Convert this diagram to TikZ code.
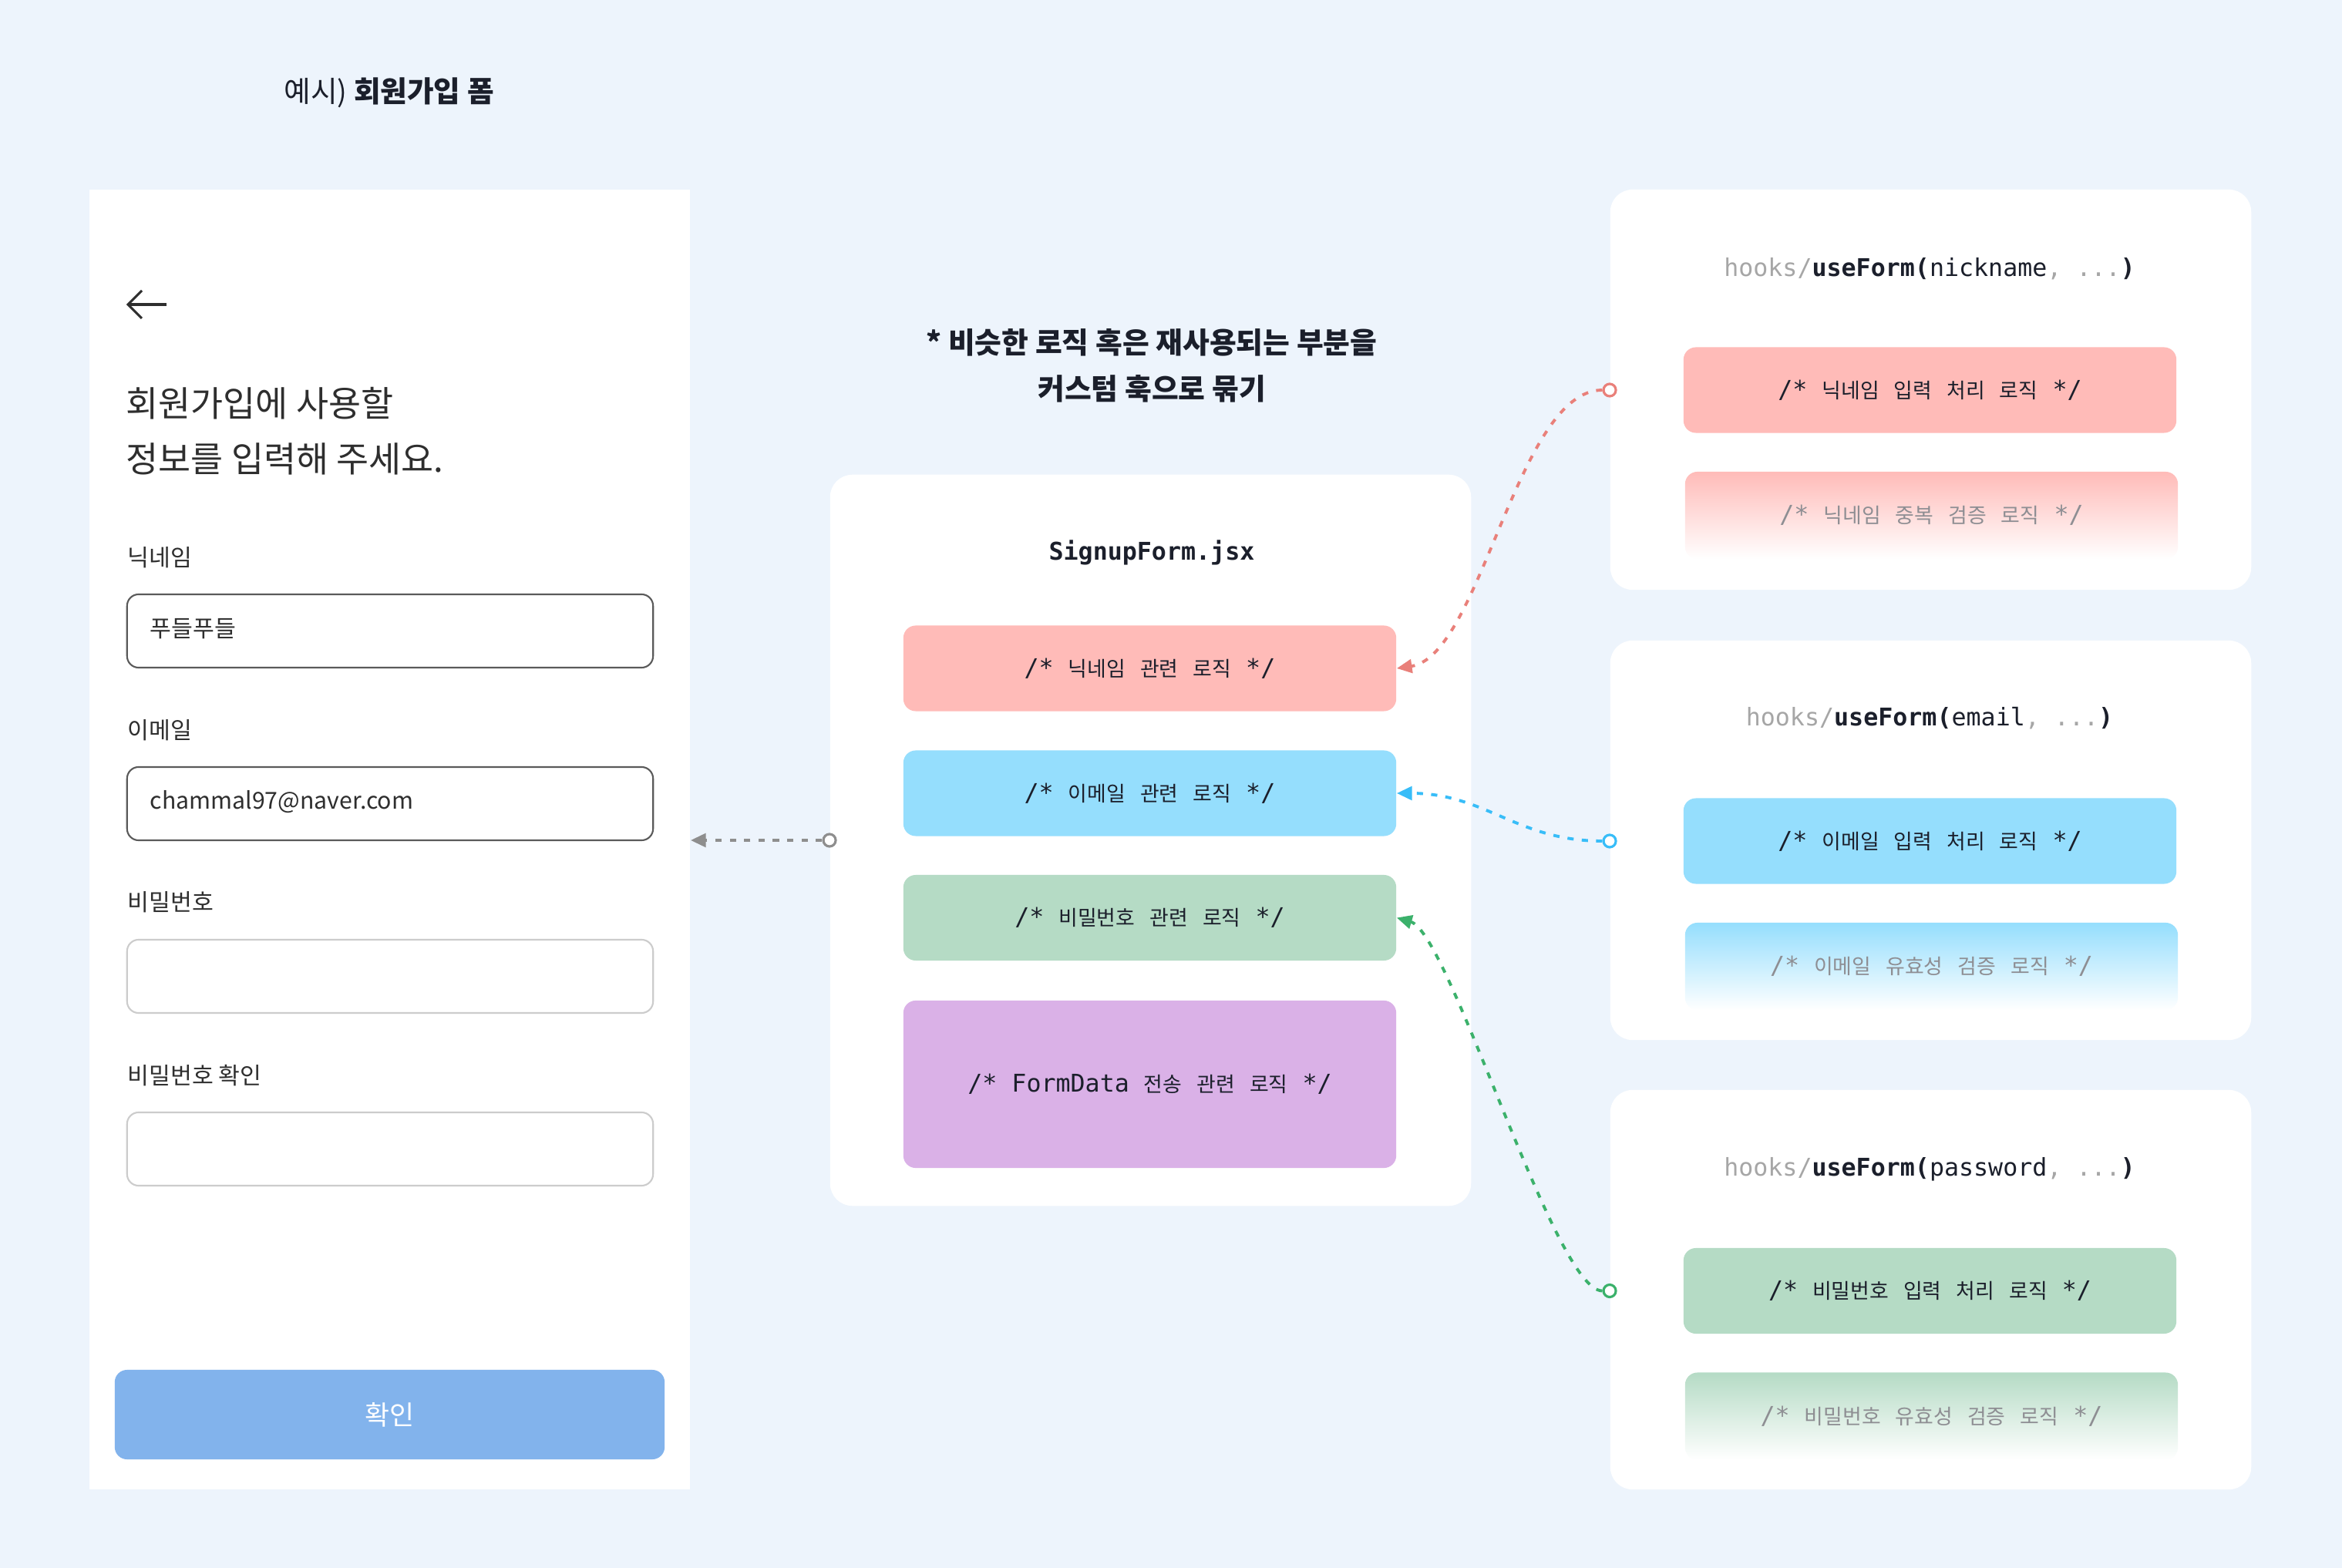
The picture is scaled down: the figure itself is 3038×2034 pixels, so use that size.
\documentclass[tikz,border=0pt]{standalone}
\usepackage{fontspec}
\setmainfont{Noto Sans CJK KR}
\setmonofont{DejaVu Sans Mono}
\newfontfamily\krcode[Scale=0.85]{Noto Sans CJK KR}
\usetikzlibrary{arrows.meta,positioning}

\definecolor{bg}{HTML}{EDF4FC}
\definecolor{nickfill}{HTML}{FFBBB8}
\definecolor{nickline}{HTML}{E9807A}
\definecolor{mailfill}{HTML}{95DEFD}
\definecolor{mailline}{HTML}{38BDF8}
\definecolor{pwfill}{HTML}{B5DBC5}
\definecolor{pwline}{HTML}{3BB16B}
\definecolor{sendfill}{HTML}{DAB1E7}
\definecolor{btnfill}{HTML}{82B3EC}
\definecolor{ink}{HTML}{1B1F2B}
\definecolor{uitext}{HTML}{2E2E2E}
\definecolor{fielddark}{HTML}{5A5A5A}
\definecolor{fieldlight}{HTML}{CCCCCC}
\definecolor{hookgray}{HTML}{A6A6A6}
\definecolor{fadetext}{HTML}{8E8E93}
\definecolor{linkgray}{HTML}{8E8E8E}

\newcommand\kr[1]{{\krcode #1}}

\tikzset{
  panel/.style={fill=white, rounded corners=2.9mm, minimum width=8.31cm, inner sep=0pt},
  field/.style={draw=#1, line width=0.6pt, rounded corners=1.5mm, minimum width=6.82cm, minimum height=0.95cm, inner sep=0pt},
  label/.style={anchor=west, inner sep=0pt, text=uitext, font=\fontsize{8.6pt}{10pt}\selectfont},
  codebox/.style={fill=#1, rounded corners=1.6mm, minimum width=6.39cm, minimum height=1.11cm, inner sep=0pt, text=ink, font=\ttfamily\fontsize{9pt}{11pt}\selectfont},
  fadebox/.style={top color=#1, bottom color=white, rounded corners=1.6mm, minimum width=6.39cm, minimum height=1.13cm, inner sep=0pt, text=fadetext, font=\ttfamily\fontsize{9pt}{11pt}\selectfont},
  hook/.style={inner sep=0pt, text=ink, font=\ttfamily\fontsize{9pt}{11pt}\selectfont},
  port/.style={circle, draw=#1, fill=white, line width=0.9pt, minimum size=0.16cm, inner sep=0pt},
  link/.style={draw=#1, line width=1.1pt, dash pattern=on 2.3pt off 3pt, -{Triangle[length=5.6pt,width=5pt]}}
}

\begin{document}
\begin{tikzpicture}[x=0.01cm,y=-0.01cm]
  \useasboundingbox (0,0) rectangle (3038,2034);
  \fill[bg] (0,0) rectangle (3038,2034);

  % title
  \node[anchor=west, inner sep=0pt, text=ink, font=\fontsize{10.7pt}{12pt}\selectfont] (title) at (368,120) {예시) \textbf{회원가입 폼}};

  % signup screen
  \node[fill=white, minimum width=7.79cm, minimum height=16.86cm, inner sep=0pt] (form) at (505.5,1089) {};
  \draw[uitext, line width=0.9pt] (216,395) -- (167,395);
  \draw[uitext, line width=0.9pt] (184,377) -- (166,395) -- (184,413);
  \node[anchor=west, inner sep=0pt, align=left, text=uitext, font=\fontsize{13pt}{20.5pt}\selectfont] (heading) at (163,559) {회원가입에 사용할\\정보를 입력해 주세요.};

  \node[label] (nickLabel) at (165,723) {닉네임};
  \node[field=fielddark] (nickField) at (506,818.5) {};
  \node[label] (nickValue) at (194,816) {푸들푸들};
  \node[label] (mailLabel) at (165,947) {이메일};
  \node[field=fielddark] (mailField) at (506,1042.5) {};
  \node[label] (mailValue) at (194,1040) {chammal97@naver.com};
  \node[label] (pwLabel) at (165,1170) {비밀번호};
  \node[field=fieldlight] (pwField) at (506,1266.5) {};
  \node[label] (pwcLabel) at (165,1395) {비밀번호 확인};
  \node[field=fieldlight] (pwcField) at (506,1490.5) {};
  \node[fill=btnfill, rounded corners=1.6mm, minimum width=7.13cm, minimum height=1.16cm, text=white, font=\fontsize{9.9pt}{11pt}\selectfont] (submit) at (505.5,1835) {확인};

  % SignupForm.jsx
  \node[align=center, inner sep=0pt, text=ink, font=\bfseries\fontsize{10.75pt}{17pt}\selectfont] (note) at (1494,474) {* 비슷한 로직 혹은 재사용되는 부분을\\커스텀 훅으로 묶기};
  \node[panel, minimum height=9.48cm] (signup) at (1492.5,1090) {};
  \node[hook, font=\ttfamily\bfseries\fontsize{9pt}{11pt}\selectfont] (signupTitle) at (1494,717) {SignupForm.jsx};
  \node[codebox=nickfill] (nick) at (1491.5,867) {/* \kr{닉네임} \kr{관련} \kr{로직} */};
  \node[codebox=mailfill] (mail) at (1491.5,1029) {/* \kr{이메일} \kr{관련} \kr{로직} */};
  \node[codebox=pwfill] (pw) at (1491.5,1190.5) {/* \kr{비밀번호} \kr{관련} \kr{로직} */};
  \node[codebox=sendfill, minimum height=2.17cm] (send) at (1491.5,1406.5) {/* FormData \kr{전송} \kr{관련} \kr{로직} */};

  % custom hooks
  \node[panel, minimum height=5.19cm] (hookNick) at (2504.5,505.5) {};
  \node[hook] (hookNickTitle) at (2503,349) {{\color{hookgray}hooks/}\textbf{useForm(}nickname{\color{hookgray}, ...}\textbf{)}};
  \node[codebox=nickfill] (nickInput) at (2503.5,506) {/* \kr{닉네임} \kr{입력} \kr{처리} \kr{로직} */};
  \node[fadebox=nickfill] (nickCheck) at (2505.5,668.5) {/* \kr{닉네임} \kr{중복} \kr{검증} \kr{로직} */};

  \node[panel, minimum height=5.18cm] (hookMail) at (2504.5,1090) {};
  \node[hook] (hookMailTitle) at (2503,932) {{\color{hookgray}hooks/}\textbf{useForm(}email{\color{hookgray}, ...}\textbf{)}};
  \node[codebox=mailfill] (mailInput) at (2503.5,1091) {/* \kr{이메일} \kr{입력} \kr{처리} \kr{로직} */};
  \node[fadebox=mailfill] (mailCheck) at (2505.5,1253.5) {/* \kr{이메일} \kr{유효성} \kr{검증} \kr{로직} */};

  \node[panel, minimum height=5.18cm] (hookPw) at (2504.5,1673) {};
  \node[hook] (hookPwTitle) at (2503,1517) {{\color{hookgray}hooks/}\textbf{useForm(}password{\color{hookgray}, ...}\textbf{)}};
  \node[codebox=pwfill] (pwInput) at (2503.5,1674.5) {/* \kr{비밀번호} \kr{입력} \kr{처리} \kr{로직} */};
  \node[fadebox=pwfill] (pwCheck) at (2505.5,1837) {/* \kr{비밀번호} \kr{유효성} \kr{검증} \kr{로직} */};

  % connectors
  \node[port=linkgray] (signupPort) at (signup.west) {};
  \node[port=nickline] (nickPort) at (hookNick.west |- nickInput) {};
  \node[port=mailline] (mailPort) at (hookMail.west |- mailInput) {};
  \node[port=pwline] (pwPort) at (hookPw.west |- pwInput) {};
  \draw[link=linkgray] (signupPort) -- (signupPort -| form.east);
  \draw[link=nickline] (nickPort) .. controls +(-120,0) and +(109,-16) .. (nick.east);
  \draw[link=mailline] (mailPort) .. controls +(-120,0) and +(115,0) .. (mail.east);
  \draw[link=pwline] (pwPort) .. controls +(-72,0) and +(69,20) .. (pw.east);
\end{tikzpicture}
\end{document}
